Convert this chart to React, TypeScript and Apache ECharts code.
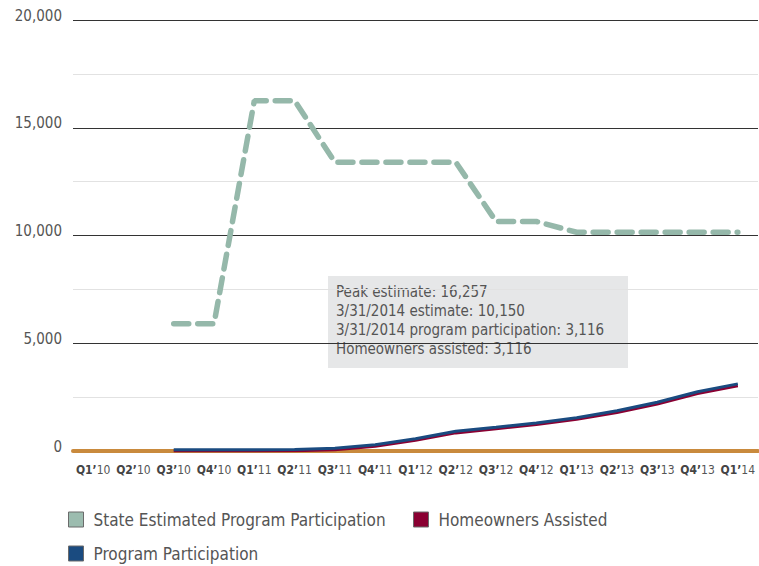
import React, { useEffect, useRef } from "react";
import * as echarts from "echarts";

const quarters = ["Q1’10","Q2’10","Q3’10","Q4’10","Q1’11","Q2’11","Q3’11","Q4’11","Q1’12","Q2’12","Q3’12","Q4’12","Q1’13","Q2’13","Q3’13","Q4’13","Q1’14"];
const stateEstimated = [null, null, 5900, 5900, 16257, 16257, 13400, 13400, 13400, 13400, 10650, 10650, 10150, 10150, 10150, 10150, 10150];
const homeownersAssisted = [null, null, 0, 0, 0, 10, 60, 220, 500, 840, 1030, 1230, 1470, 1790, 2180, 2670, 3030];
const programParticipation = [null, null, 60, 60, 60, 70, 125, 292, 570, 914, 1100, 1300, 1545, 1870, 2260, 2750, 3116];
const seriesNames = ["State Estimated Program Participation", "Homeowners Assisted", "Program Participation"];
const annotationLines = [
  "Peak estimate: 16,257",
  "3/31/2014 estimate: 10,150",
  "3/31/2014 program participation: 3,116",
  "Homeowners assisted: 3,116",
];

const FONT = "'DejaVu Sans Condensed', 'Liberation Sans Narrow', 'Roboto', sans-serif";

const legendBase = {
  icon: "rect",
  padding: 0,
  itemWidth: 15,
  itemHeight: 15,
  itemGap: 10,
  itemStyle: { borderColor: "#6b6b6b", borderWidth: 1 },
  textStyle: { fontFamily: FONT, fontSize: 17, color: "#555", padding: [0, 0, 0, 5] },
};

export default function App() {
  const ref = useRef<HTMLDivElement>(null);
  useEffect(() => {
    if (!ref.current) return;
    const chart = echarts.init(ref.current, null, { renderer: "svg" });
    chart.setOption({
      animation: false,
      textStyle: { fontFamily: FONT },
      grid: { left: 73, right: 1, top: 20, bottom: 115, containLabel: false },
      legend: [
        { ...legendBase, left: 68, top: 511, data: [seriesNames[0]] },
        { ...legendBase, left: 413, top: 511, data: [seriesNames[1]] },
        { ...legendBase, left: 68, top: 545, data: [seriesNames[2]] },
      ],
      xAxis: {
        type: "category",
        data: quarters,
        boundaryGap: true,
        axisLine: { lineStyle: { color: "#c98a3d", width: 4 } },
        axisTick: { alignWithLabel: true, length: 8, lineStyle: { color: "#333", width: 1.5 } },
        axisLabel: {
          interval: 0,
          margin: 13,
          formatter: (v: string) => `{b|${v.slice(0, 3)}}{r|${v.slice(3)}}`,
          rich: {
            b: { fontFamily: FONT, fontWeight: "bold", fontSize: 12, color: "#444" },
            r: { fontFamily: FONT, fontSize: 12, color: "#555" },
          },
        },
      },
      yAxis: {
        type: "value",
        min: 0,
        max: 20000,
        interval: 2500,
        axisLine: { show: false },
        axisTick: { show: false },
        axisLabel: {
          margin: 11,
          fontSize: 15,
          color: "#555",
          fontFamily: FONT,
          verticalAlign: "bottom",
          lineHeight: 9,
          formatter: (v: number) => (v % 5000 === 0 ? v.toLocaleString("en-US") : ""),
        },
        splitLine: { lineStyle: { color: ["#333", "#e2e2e2"], width: 1 } },
      },
      series: [
        {
          name: seriesNames[0],
          type: "line",
          data: stateEstimated,
          showSymbol: false,
          color: "#95b8aa",
          itemStyle: { color: "#9cbcaf" },
          lineStyle: { color: "#95b8aa", width: 5.5, type: [15, 9], cap: "round" },
          z: 3,
        },
        {
          name: seriesNames[1],
          type: "line",
          data: homeownersAssisted,
          showSymbol: false,
          color: "#8a0032",
          itemStyle: { color: "#8a0032" },
          lineStyle: { color: "#8a0032", width: 3 },
          z: 4,
        },
        {
          name: seriesNames[2],
          type: "line",
          data: programParticipation,
          showSymbol: false,
          color: "#1a4b80",
          itemStyle: { color: "#1a4b80" },
          lineStyle: { color: "#1a4b80", width: 3 },
          z: 5,
        },
      ],
      graphic: [
        {
          type: "group",
          left: 328,
          top: 276,
          z: 10,
          children: [
            { type: "rect", shape: { x: 0, y: 0, width: 300, height: 92 }, style: { fill: "#e6e7e8" } },
            ...annotationLines.map((t, i) => ({
              type: "text",
              x: 8,
              y: 8 + i * 19.3,
              style: { text: t, fill: "#555", font: `15px ${FONT}` },
            })),
          ],
        },
      ],
    });
    return () => chart.dispose();
  }, []);
  return <div ref={ref} style={{ width: 759, height: 566, position: "absolute", left: 0, top: 0 }} />;
}
